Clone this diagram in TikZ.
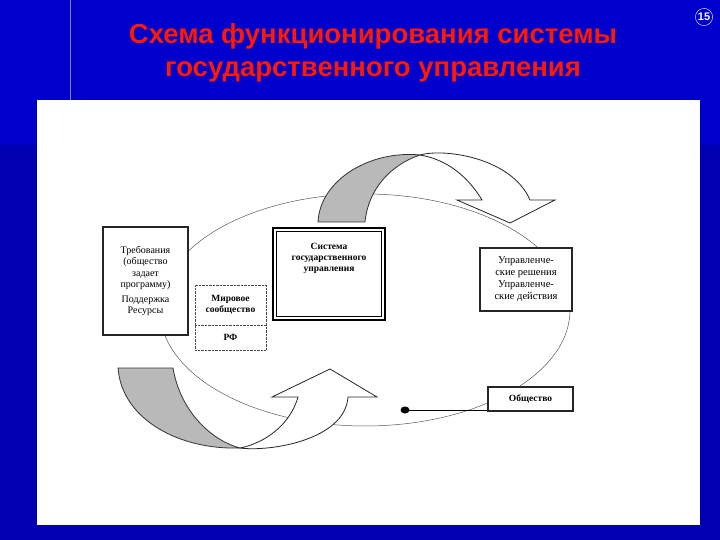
\documentclass[tikz,border=0pt]{standalone}
\usepackage{fontspec}
\setmainfont{Liberation Serif}
\newfontfamily\titlefont{Liberation Sans}
\begin{document}
\begin{tikzpicture}[x=1pt,y=-1pt,
  bx/.style={draw=black!85,fill=white,line width=1.1pt,align=center,inner sep=2pt,font=\fontsize{10}{11.5}\selectfont},
  shade/.style={draw=black!80,fill=gray!55,line width=0.8pt},
  arw/.style={draw=black!85,fill=white,line width=0.8pt}]
\useasboundingbox (0,0) rectangle (720,540);
\fill[blue!80!black] (0,0) rectangle (720,540);
\fill[blue!70!black] (0,145) rectangle (720,540);
\fill[blue!80!black] (70,0) rectangle (720,145);
\draw[blue!50!white,line width=0.3pt] (70,0) -- (70,100);
\fill[white] (37,100) rectangle (700,525);
\node[font=\titlefont\bfseries\fontsize{27.5}{33}\selectfont,text=red!80!orange,align=center] (title) at (373,53) {Схема функционирования системы\\государственного управления};
\node[circle,draw=white,text=white,inner sep=1pt,font=\titlefont\bfseries\fontsize{11}{11}\selectfont] (num) at (704,17) {15};
% ellipse
\draw[gray!70!black,line width=0.5pt] (365,310) ellipse [x radius=205,y radius=116];
% top arrow
\path[arw] (420,155) .. controls (445,148) and (512,158) .. (530,200) -- (555,200) -- (510,223) -- (457,200) -- (482,200) .. controls (470,180) and (450,160) .. (420,155) -- cycle;
\path[shade] (318,222) .. controls (320,180) and (370,150) .. (420,155) .. controls (390,165) and (368,190) .. (365,222) -- cycle;
% bottom arrow
\path[arw] (240,448) .. controls (270,452) and (345,440) .. (348,397) -- (377,397) -- (330,369) -- (272,397) -- (298,397) .. controls (290,425) and (265,443) .. (240,448) -- cycle;
\path[shade] (118,368) -- (173,368) .. controls (180,410) and (210,440) .. (240,448) .. controls (180,450) and (122,420) .. (118,368) -- cycle;
% boxes
\node[bx,minimum width=85,minimum height=108] (req) at (145.5,281) {Требования\\(общество\\задает\\программу)\\[3pt]Поддержка\\Ресурсы};
\node[draw=black!70,densely dotted,fill=white,minimum width=71,minimum height=40,align=center,font=\bfseries\fontsize{9.5}{11}\selectfont,inner sep=1pt] (world) at (230.5,305) {Мировое\\сообщество};
\node[draw=black!70,densely dotted,fill=white,minimum width=71,minimum height=25,font=\bfseries\fontsize{9.5}{11}\selectfont] (rf) at (230.5,337.5) {РФ};
\node[draw=black,fill=white,line width=1.4pt,minimum width=112,minimum height=92] (sys) at (329,274) {};
\node[draw=black,line width=0.6pt,minimum width=105,minimum height=85] (sysin) at (329,274) {};
\node[align=center,font=\bfseries\fontsize{9.5}{11}\selectfont] (syst) at (329,258) {Система\\государственного\\управления};
\node[bx,minimum width=92,minimum height=63,font=\fontsize{10.5}{12}\selectfont,inner sep=1pt] (upr) at (526,279.5) {Управленче-\\ские решения\\Управленче-\\ские действия};
\node[bx,minimum width=85,minimum height=24,font=\bfseries\fontsize{9.5}{10}\selectfont] (obs) at (530.5,399) {Общество};
\coordinate (dot) at (405,410);
\fill (dot) circle[x radius=4.5,y radius=3.5];
\draw[line width=0.7pt] (dot) -- (obs.west |- dot);
\end{tikzpicture}
\end{document}
